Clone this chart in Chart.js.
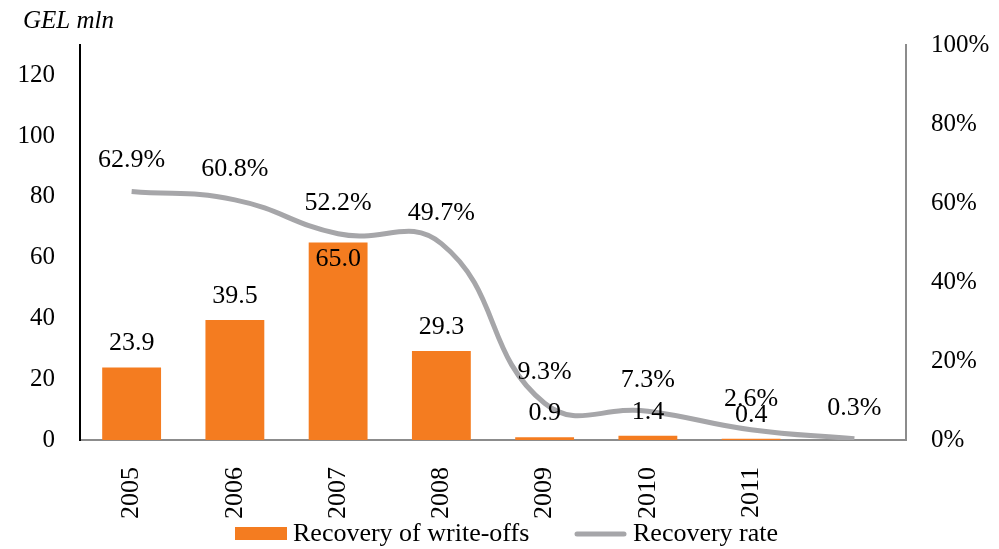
<!DOCTYPE html>
<html>
<head>
<meta charset="utf-8">
<script src="https://cdn.jsdelivr.net/npm/chart.js@4.4.0/dist/chart.umd.min.js"></script>
<style>
  html, body { margin: 0; padding: 0; background: #fff; }
  #wrap { width: 999px; height: 549px; }
</style>
</head>
<body>
<div id="wrap"><canvas id="grafico"></canvas></div>
<script>
// dados
var anos = ['2005', '2006', '2007', '2008', '2009', '2010', '2011', ''];
var recuperacao = [23.9, 39.5, 65.0, 29.3, 0.9, 1.4, 0.4, null];
var taxa = [62.9, 60.8, 52.2, 49.7, 9.3, 7.3, 2.6, 0.3];
var legendas = ['Recovery of write-offs', 'Recovery rate'];

var laranja = '#F47C20';
var cinza = '#A6A6A9';
var fonte = '"Liberation Serif", "Times New Roman", serif';

// rotulos de valores + legenda + titulo do eixo
var rotulos = {
    id: 'rotulos',
    afterDatasetsDraw: function(chart) {
        var ctx = chart.ctx;
        ctx.save();
        ctx.fillStyle = '#000';
        ctx.font = '26px ' + fonte;
        ctx.textAlign = 'center';
        ctx.textBaseline = 'middle';

        var barras = chart.getDatasetMeta(0).data;
        barras.forEach(function(b, i) {
            var v = recuperacao[i];
            if (v === null) return;
            var y = v > 60 ? b.y + 17 : b.y - 24;
            ctx.fillText(v.toFixed(1), b.x, y);
        });

        var pontos = chart.getDatasetMeta(1).data;
        pontos.forEach(function(p, i) {
            ctx.fillText(taxa[i].toFixed(1) + '%', p.x, p.y - 31);
        });
        ctx.restore();
    },
    afterDraw: function(chart) {
        var ctx = chart.ctx;
        ctx.save();
        ctx.fillStyle = '#000';
        ctx.textBaseline = 'middle';
        ctx.textAlign = 'left';
        ctx.font = 'italic 25px ' + fonte;
        ctx.fillText('GEL mln', 23, 21);

        // legenda
        var yl = 534;
        ctx.font = '26px ' + fonte;
        ctx.fillStyle = laranja;
        ctx.fillRect(235, yl - 7, 52, 13);
        ctx.fillStyle = '#000';
        ctx.fillText(legendas[0], 293, yl);
        ctx.strokeStyle = cinza;
        ctx.lineWidth = 5;
        ctx.lineCap = 'round';
        ctx.beginPath();
        ctx.moveTo(577, yl);
        ctx.lineTo(624, yl);
        ctx.stroke();
        ctx.fillText(legendas[1], 633, yl);
        ctx.restore();
    }
};

var ctx = document.getElementById('grafico');
var grafico = new Chart(ctx, {
    type: 'bar',
    data: {
        labels: anos,
        datasets: [{
            label: legendas[0],
            data: recuperacao,
            backgroundColor: laranja,
            borderWidth: 0,
            barPercentage: 0.57,
            categoryPercentage: 1,
            yAxisID: 'y',
            order: 2
        }, {
            type: 'line',
            label: legendas[1],
            data: taxa,
            borderColor: cinza,
            borderWidth: 5,
            pointRadius: 0,
            tension: 0.45,
            fill: false,
            yAxisID: 'y2',
            order: 1
        }]
    },
    options: {
        responsive: true,
        maintainAspectRatio: false,
        animation: false,
        layout: {
            padding: { top: 45, bottom: 29, left: 0, right: 0 }
        },
        plugins: {
            legend: { display: false },
            tooltip: { enabled: false }
        },
        scales: {
            x: {
                offset: true,
                grid: { display: false, drawTicks: false },
                border: { display: true, color: '#8C8C8C', width: 2 },
                ticks: {
                    color: '#000',
                    font: { family: fonte, size: 26 },
                    minRotation: 90,
                    maxRotation: 90,
                    padding: 27
                },
                afterFit: function(s) { s.height = 80; }
            },
            y: {
                position: 'left',
                min: 0,
                max: 130,
                grid: { display: false, drawTicks: false },
                border: { display: true, color: '#000', width: 2 },
                ticks: {
                    stepSize: 20,
                    color: '#000',
                    font: { family: fonte, size: 25 },
                    padding: 25,
                    callback: function(v) { return v > 120 ? '' : v; }
                },
                afterFit: function(s) { s.width = 80; }
            },
            y2: {
                position: 'right',
                min: 0,
                max: 100,
                grid: { display: false, drawTicks: false },
                border: { display: true, color: '#8C8C8C', width: 2 },
                ticks: {
                    stepSize: 20,
                    color: '#000',
                    font: { family: fonte, size: 25 },
                    padding: 25,
                    callback: function(v) { return v + '%'; }
                },
                afterFit: function(s) { s.width = 93; }
            }
        }
    },
    plugins: [rotulos]
});
</script>
</body>
</html>
